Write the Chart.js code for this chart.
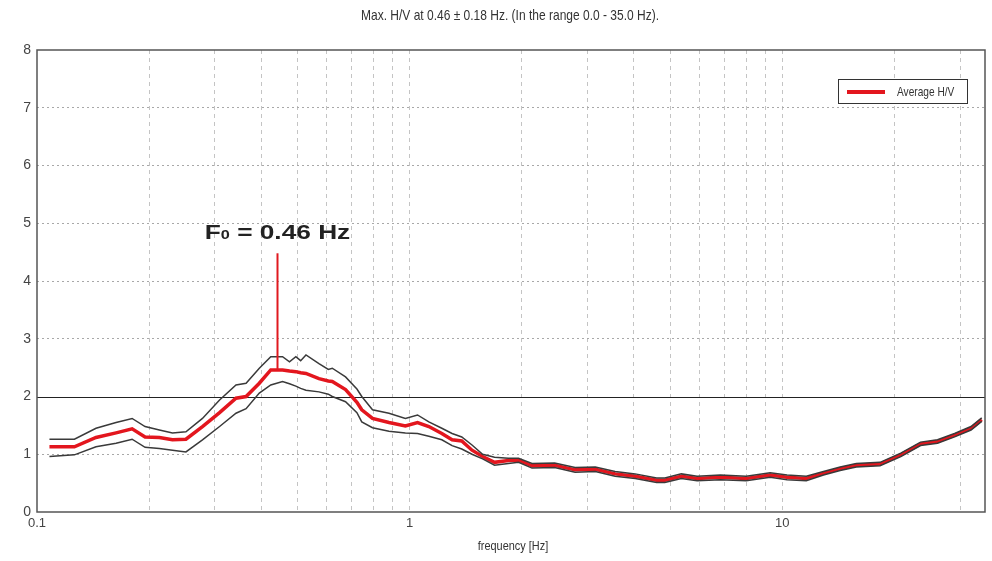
<!DOCTYPE html>
<html>
<head>
<meta charset="utf-8">
<script src="https://cdn.jsdelivr.net/npm/chart.js@4.4.0/dist/chart.umd.min.js"></script>
<style>
    html, body { margin: 0; padding: 0; background: #fff; }
    .chart__box { width: 992px; height: 561px; }
</style>
</head>
<body>
<div class="chart__box"><canvas id="hvChart" width="992" height="561"></canvas></div>
<script>
// frequencies [Hz] and H/V values
const freqHz = [0.108, 0.126, 0.144, 0.163, 0.180, 0.195, 0.213, 0.231, 0.251, 0.278,
    0.309, 0.342, 0.364, 0.395, 0.424, 0.456, 0.476, 0.495, 0.510, 0.527,
    0.571, 0.605, 0.620, 0.673, 0.722, 0.744, 0.795, 0.880, 0.974, 1.05,
    1.126, 1.22, 1.30, 1.38, 1.47, 1.57, 1.69, 1.84, 1.96, 2.13,
    2.45, 2.78, 3.15, 3.56, 4.03, 4.6, 4.84, 5.36, 5.91, 6.82,
    8.0, 9.28, 10.3, 11.6, 12.9, 14.3, 15.8, 18.3, 20.8, 23.5,
    26.1, 29.0, 32.1, 34.3];

const avgHV = [1.13, 1.13, 1.29, 1.37, 1.44, 1.30, 1.29, 1.25, 1.26, 1.48,
    1.72, 1.97, 2.00, 2.23, 2.46, 2.46, 2.44, 2.43, 2.41, 2.40,
    2.31, 2.27, 2.26, 2.12, 1.90, 1.77, 1.62, 1.55, 1.49, 1.55,
    1.48, 1.36, 1.25, 1.23, 1.07, 0.96, 0.86, 0.89, 0.90, 0.80,
    0.81, 0.73, 0.74, 0.66, 0.62, 0.55, 0.55, 0.62, 0.58, 0.60,
    0.58, 0.64, 0.60, 0.58, 0.67, 0.75, 0.81, 0.83, 0.99, 1.18,
    1.22, 1.33, 1.45, 1.60];

const upperHV = [1.26, 1.26, 1.45, 1.55, 1.62, 1.48, 1.42, 1.37, 1.39, 1.62,
    1.94, 2.20, 2.23, 2.49, 2.69, 2.69, 2.60, 2.69, 2.62, 2.72,
    2.57, 2.47, 2.49, 2.34, 2.13, 2.00, 1.77, 1.71, 1.62, 1.68,
    1.56, 1.45, 1.36, 1.30, 1.16, 1.00, 0.95, 0.93, 0.93, 0.84,
    0.85, 0.77, 0.78, 0.70, 0.66, 0.59, 0.59, 0.66, 0.62, 0.64,
    0.62, 0.68, 0.64, 0.62, 0.70, 0.78, 0.84, 0.86, 1.02, 1.21,
    1.25, 1.36, 1.48, 1.63];

const lowerHV = [0.96, 0.99, 1.13, 1.19, 1.26, 1.12, 1.10, 1.07, 1.04, 1.25,
    1.48, 1.71, 1.79, 2.06, 2.20, 2.26, 2.22, 2.18, 2.14, 2.11,
    2.08, 2.04, 2.00, 1.91, 1.72, 1.56, 1.46, 1.40, 1.37, 1.36,
    1.31, 1.25, 1.15, 1.09, 1.00, 0.92, 0.81, 0.84, 0.86, 0.76,
    0.77, 0.69, 0.70, 0.62, 0.58, 0.51, 0.51, 0.58, 0.54, 0.56,
    0.54, 0.60, 0.56, 0.54, 0.64, 0.72, 0.78, 0.80, 0.96, 1.15,
    1.19, 1.30, 1.42, 1.57];

const xGridValues = [0.1, 0.2, 0.3, 0.4, 0.5, 0.6, 0.7, 0.8, 0.9,
    1, 2, 3, 4, 5, 6, 7, 8, 9, 10, 20, 30];
const xTickLabels = [0.1, 1, 10];
const yTickValues = [0, 1, 2, 3, 4, 5, 6, 7, 8];
const refLineValue = 2;

const f0Marker = 0.44;      // where the marker line is drawn
const f0Label = '0.46 Hz';
const titleText = 'Max. H/V at 0.46 \u00b1 0.18 Hz. (In the range 0.0 - 35.0 Hz).';
const xAxisTitle = 'frequency [Hz]';

const baseFont = "'Liberation Sans', Arial, sans-serif";

function toPoints(values) {
    return freqHz.map((f, i) => ({x: f, y: values[i]}));
}

// no narrow font installed, so squeeze the text horizontally
function fillNarrow(ctx, text, x, y, align, squeeze) {
    ctx.save();
    ctx.translate(x, y);
    ctx.scale(squeeze, 1);
    ctx.textAlign = align;
    ctx.fillText(text, 0, 0);
    ctx.restore();
}

const hvDecor = {
    id: 'hvDecor',
    beforeDatasetsDraw(chart) {
        const {ctx, chartArea: a, scales: {y}} = chart;
        const yRef = Math.round(y.getPixelForValue(refLineValue)) + 0.5;
        ctx.save();
        ctx.strokeStyle = '#222';
        ctx.lineWidth = 1;
        ctx.beginPath();
        ctx.moveTo(a.left, yRef);
        ctx.lineTo(a.right, yRef);
        ctx.stroke();
        ctx.restore();
    },
    afterDraw(chart) {
        const {ctx, chartArea: a, scales: {x, y}} = chart;
        ctx.save();

        // frame
        ctx.strokeStyle = '#555';
        ctx.lineWidth = 1.5;
        ctx.strokeRect(a.left, a.top, a.right - a.left, a.bottom - a.top);

        // title + x axis title
        ctx.fillStyle = '#333';
        ctx.textBaseline = 'middle';
        ctx.font = '15px ' + baseFont;
        fillNarrow(ctx, titleText, 510, 16, 'center', 0.8);
        ctx.font = '13px ' + baseFont;
        fillNarrow(ctx, xAxisTitle, 513, 546, 'center', 0.84);

        // legend box
        const ds = chart.data.datasets[2];
        const lx = a.right - 147, ly = a.top + 29;
        ctx.fillStyle = '#fff';
        ctx.fillRect(lx, ly, 129, 24);
        ctx.strokeStyle = '#333';
        ctx.lineWidth = 1;
        ctx.strokeRect(lx + 0.5, ly + 0.5, 129, 24);
        ctx.strokeStyle = ds.borderColor;
        ctx.lineWidth = 4;
        ctx.beginPath();
        ctx.moveTo(lx + 9, ly + 13);
        ctx.lineTo(lx + 47, ly + 13);
        ctx.stroke();
        ctx.fillStyle = '#333';
        ctx.font = '13px ' + baseFont;
        fillNarrow(ctx, ds.label, lx + 59, ly + 13, 'left', 0.78);

        // F0 marker
        const mx = Math.round(x.getPixelForValue(f0Marker)) + 0.5;
        ctx.strokeStyle = '#e0191f';
        ctx.lineWidth = 2;
        ctx.beginPath();
        ctx.moveTo(mx, y.getPixelForValue(4.48));
        ctx.lineTo(mx, y.getPixelForValue(2.46));
        ctx.stroke();

        const big = 'bold 21px ' + baseFont;
        const small = 'bold 13px ' + baseFont;
        const rest = ' = ' + f0Label;
        ctx.font = big;
        const wF = ctx.measureText('F').width;
        const wRest = ctx.measureText(rest).width;
        ctx.font = small;
        const wSub = ctx.measureText('0').width;
        const total = wF + wSub + wRest;
        ctx.translate(mx, 239);
        ctx.scale(1.25, 1);
        ctx.fillStyle = '#222';
        ctx.textAlign = 'left';
        ctx.textBaseline = 'alphabetic';
        let cx = -total / 2;
        ctx.font = big;
        ctx.fillText('F', cx, 0);
        cx += wF;
        ctx.font = small;
        ctx.fillText('0', cx, 0);
        cx += wSub;
        ctx.font = big;
        ctx.fillText(rest, cx, 0);

        ctx.restore();
    }
};

const hvChart = new Chart(document.getElementById('hvChart'), {
    type: 'line',
    data: {
        datasets: [{
            label: 'Upper',
            data: toPoints(upperHV),
            borderColor: '#3a3a3a',
            borderWidth: 1.5
        }, {
            label: 'Lower',
            data: toPoints(lowerHV),
            borderColor: '#3a3a3a',
            borderWidth: 1.5
        }, {
            label: 'Average H/V',
            data: toPoints(avgHV),
            borderColor: '#e3161e',
            borderWidth: 3.5
        }]
    },
    options: {
        responsive: false,
        animation: false,
        devicePixelRatio: 1,
        elements: {
            point: {radius: 0},
            line: {tension: 0}
        },
        layout: {
            padding: {top: 50, right: 7, left: 0, bottom: 0}
        },
        plugins: {
            legend: {display: false},
            tooltip: {enabled: false}
        },
        scales: {
            x: {
                type: 'logarithmic',
                min: 0.1,
                max: 35,
                afterBuildTicks: (scale) => {
                    scale.ticks = xGridValues.map(v => ({value: v}));
                },
                afterFit: (scale) => { scale.height = 49; },
                border: {display: false, dash: [4, 4]},
                grid: {
                    drawTicks: false,
                    color: (c) => (c.tick && c.tick.value === 0.1) ? 'rgba(0,0,0,0)' : '#c4c4c4'
                },
                ticks: {
                    autoSkip: false,
                    maxRotation: 0,
                    padding: 4,
                    color: '#444',
                    font: {family: baseFont, size: 13},
                    callback: (v) => xTickLabels.includes(v) ? String(v) : ''
                }
            },
            y: {
                min: 0,
                max: 8,
                afterBuildTicks: (scale) => {
                    scale.ticks = yTickValues.map(v => ({value: v}));
                },
                afterFit: (scale) => { scale.width = 37; },
                border: {display: false, dash: [2, 3]},
                grid: {
                    drawTicks: false,
                    color: (c) => {
                        let v = c.tick ? c.tick.value : -1;
                        return (v === 0 || v === 8 || v === refLineValue) ? 'rgba(0,0,0,0)' : '#a8a8a8';
                    }
                },
                ticks: {
                    padding: 6,
                    color: '#444',
                    font: {family: baseFont, size: 14}
                }
            }
        }
    },
    plugins: [hvDecor]
});
</script>
</body>
</html>
